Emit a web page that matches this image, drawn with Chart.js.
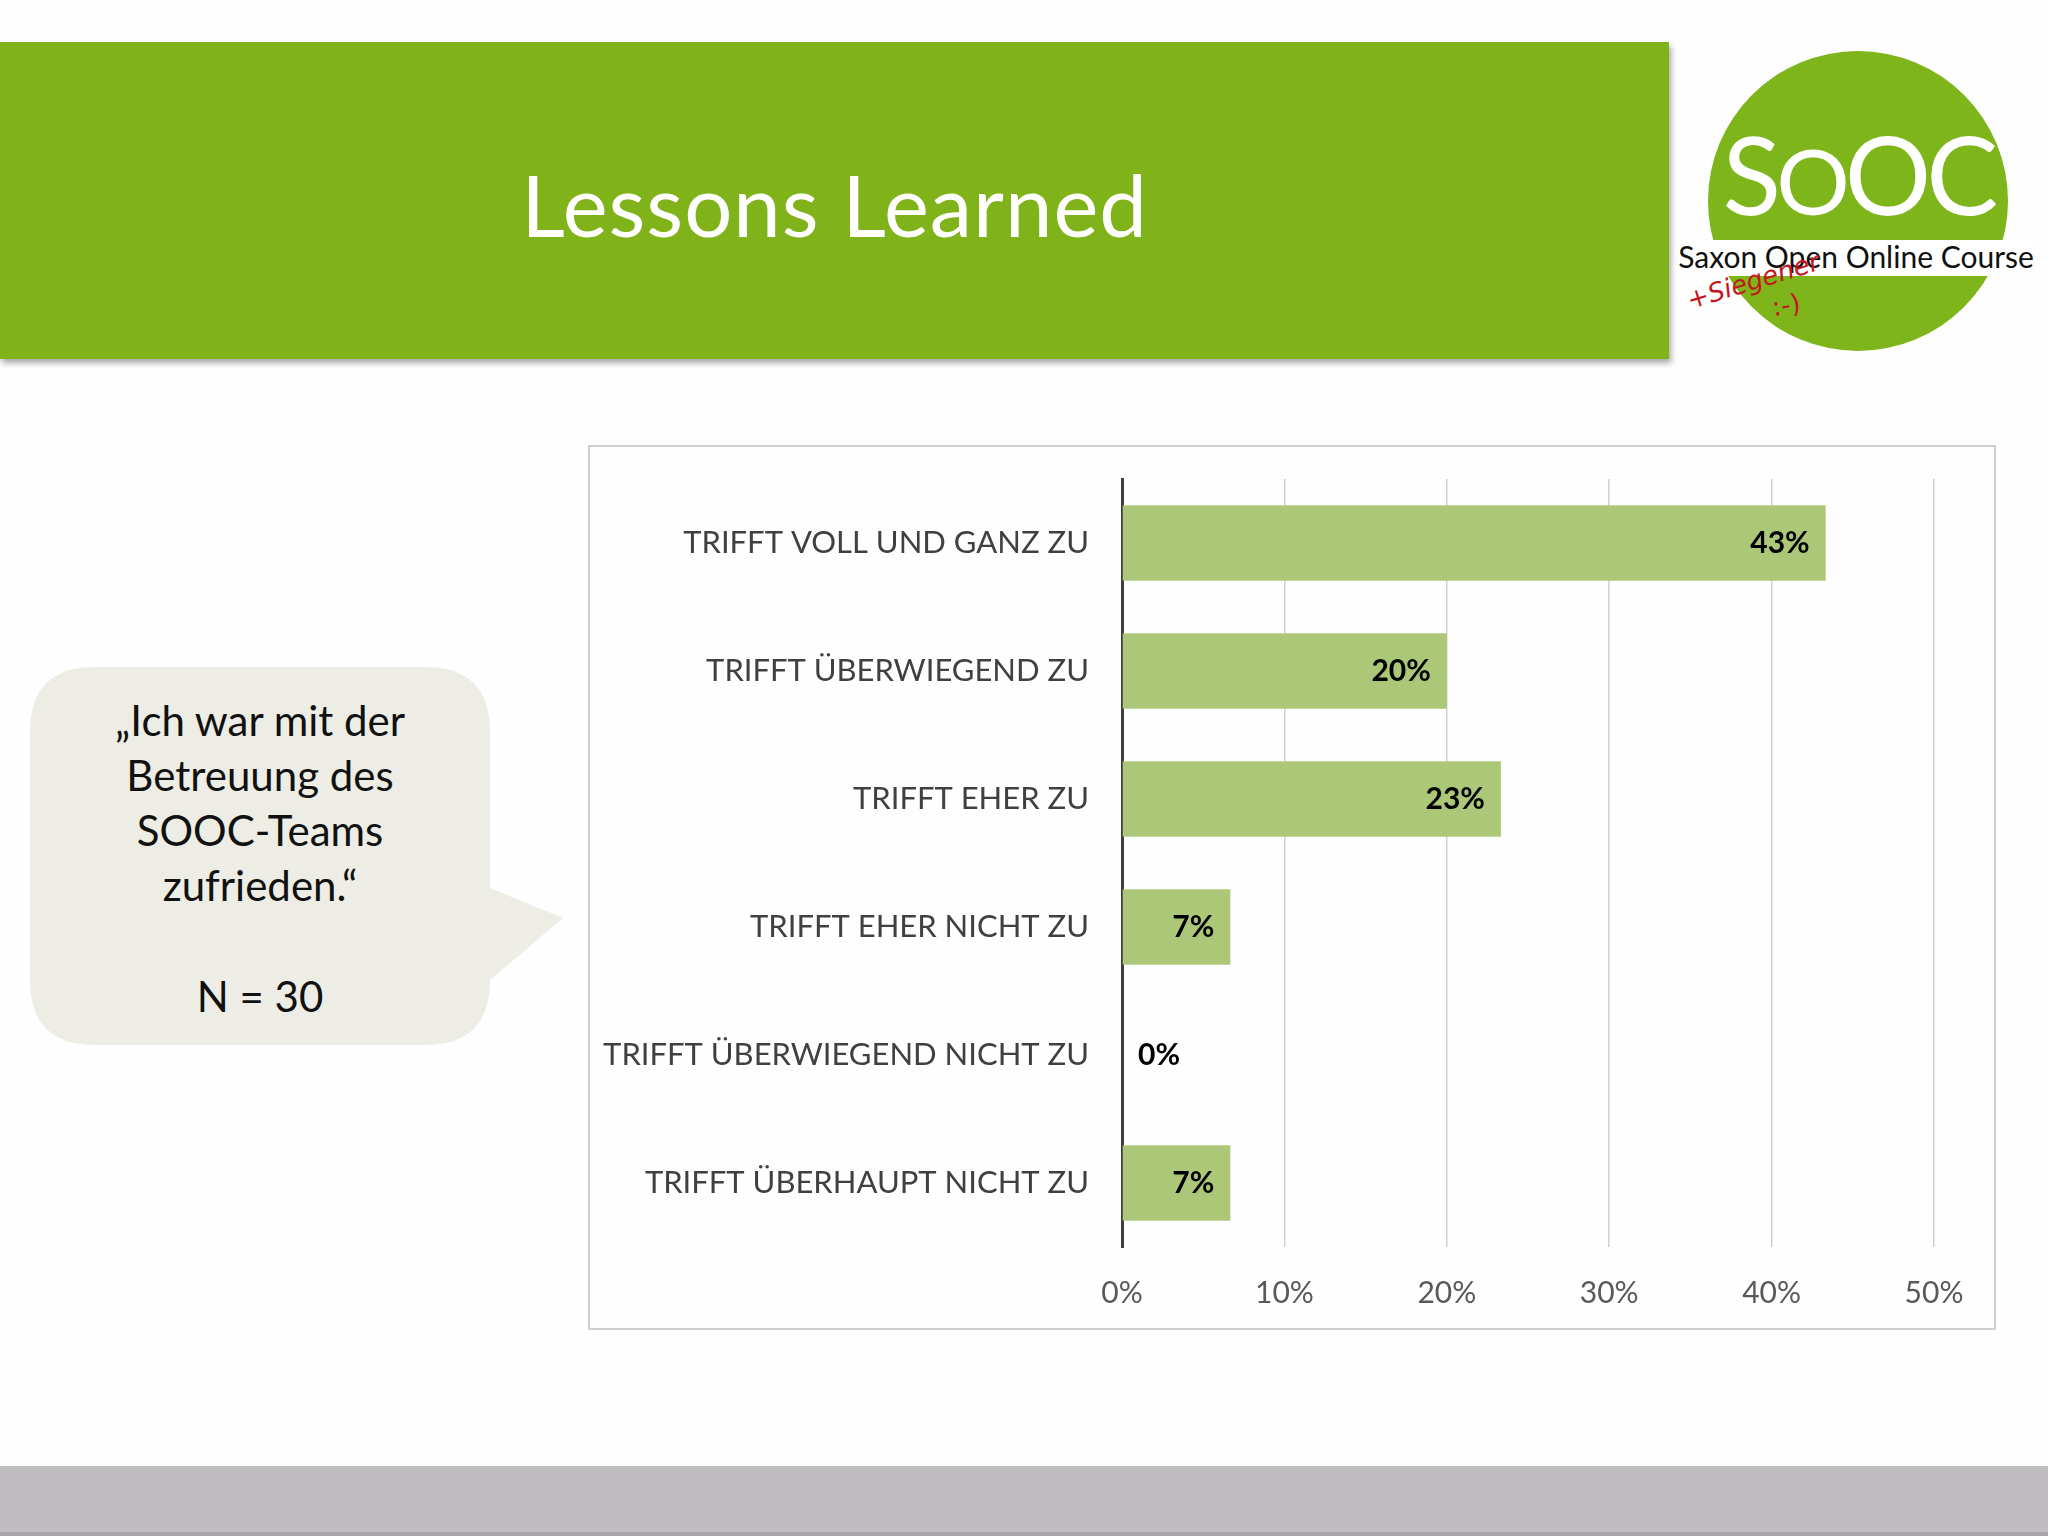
<!DOCTYPE html>
<html><head><meta charset="utf-8">
<script src="https://cdn.jsdelivr.net/npm/chart.js@4/dist/chart.umd.min.js"></script>
<style>
html,body{margin:0;padding:0;background:#fefefe;}
#page{position:relative;width:2048px;height:1536px;overflow:hidden;background:#fefefe;font-family:Lato,"Open Sans",sans-serif;}
#header{position:absolute;left:0;top:42px;width:1669px;height:317px;background:#80b21a;box-shadow:2px 4px 6px rgba(0,0,0,0.35);}
#title{position:absolute;left:0;top:46px;width:1669px;height:317px;line-height:317px;text-align:center;color:#fff;font-size:85px;font-weight:400;letter-spacing:1px;}
#logoCircle{position:absolute;left:1708px;top:51px;width:300px;height:300px;border-radius:50%;background:#7db51b;}
#logoBand{position:absolute;left:1690px;top:240px;width:340px;height:36px;background:#fff;}
#sooc{position:absolute;left:1700px;top:98px;width:316px;text-align:center;color:#fff;font-size:108px;line-height:150px;letter-spacing:-5px;}
#sooc .small{font-size:92px;}
#saxon{position:absolute;left:1670px;top:237px;width:372px;text-align:center;color:#111;font-size:30px;line-height:38px;}
#siegener{position:absolute;left:1692px;top:285px;color:#c4161c;font-size:26px;font-style:italic;transform:rotate(-17deg);transform-origin:left bottom;font-family:"DejaVu Sans",sans-serif;}
#smiley{position:absolute;left:1772px;top:290px;color:#c4161c;font-size:26px;transform:rotate(-10deg);font-family:"DejaVu Sans",sans-serif;}
#bubble{position:absolute;left:0;top:0;}
#quote{position:absolute;left:40px;top:693px;width:440px;text-align:center;font-size:42px;line-height:55px;color:#111;}
#nline{position:absolute;left:40px;top:969px;width:440px;text-align:center;font-size:42px;line-height:55px;color:#111;}
#box{position:absolute;left:588px;top:445px;width:1408px;height:885px;box-sizing:border-box;border:2px solid #cfcfcf;background:#fefefe;}
#chartCanvas{position:absolute;left:588px;top:445px;}
#footer{position:absolute;left:0;top:1466px;width:2048px;height:66px;background:#bfbdc0;}
#footerLine{position:absolute;left:0;top:1532px;width:2048px;height:4px;background:#a8a6a9;}
</style>
</head>
<body>
<div id="page">
  <div id="header"></div>
  <div id="title">Lessons Learned</div>
  <div id="logoCircle"></div>
  <div id="logoBand"></div>
  <div id="sooc">S<span class="small">O</span>OC</div>
  <div id="saxon">Saxon Open Online Course</div>
  <div id="siegener">+Siegener</div>
  <div id="smiley">:-)</div>
  <svg id="bubble" width="600" height="1100">
    <path d="M95 667 H425 Q490 667 490 732 V888 L563 918 L490 980 Q490 1045 425 1045 H95 Q30 1045 30 980 V732 Q30 667 95 667 Z" fill="#edede5"/>
  </svg>
  <div id="quote">„Ich war mit der<br>Betreuung des<br>SOOC-Teams<br>zufrieden.“</div>
  <div id="nline">N = 30</div>
  <div id="box"></div>
  <canvas id="chartCanvas" width="1408" height="885"></canvas>
  <div id="footer"></div>
  <div id="footerLine"></div>
</div>
<script>
const categories = [
  "TRIFFT VOLL UND GANZ ZU",
  "TRIFFT ÜBERWIEGEND ZU",
  "TRIFFT EHER ZU",
  "TRIFFT EHER NICHT ZU",
  "TRIFFT ÜBERWIEGEND NICHT ZU",
  "TRIFFT ÜBERHAUPT NICHT ZU"
];
const shares = [43.33, 20, 23.33, 6.67, 0, 6.67];
const valueLabels = ["43%", "20%", "23%", "7%", "0%", "7%"];
const xTicks = [0, 10, 20, 30, 40, 50];

const dataLabelPlugin = {
  id: 'valueLabels',
  afterDatasetsDraw(chart) {
    const ctx = chart.ctx;
    const meta = chart.getDatasetMeta(0);
    ctx.save();
    ctx.font = 'bold 30px Lato';
    ctx.fillStyle = '#000';
    ctx.textBaseline = 'middle';
    meta.data.forEach((bar, i) => {
      if (shares[i] > 0) {
        ctx.textAlign = 'right';
        ctx.fillText(valueLabels[i], bar.x - 16, bar.y);
      } else {
        ctx.textAlign = 'left';
        ctx.fillText(valueLabels[i], bar.x + 16, bar.y);
      }
    });
    ctx.restore();
  }
};

function draw() {
  new Chart(document.getElementById('chartCanvas'), {
    type: 'bar',
    data: {
      labels: categories,
      datasets: [{
        data: shares,
        backgroundColor: '#abc777',
        borderWidth: 0,
        barPercentage: 0.59,
        categoryPercentage: 1.0
      }]
    },
    options: {
      indexAxis: 'y',
      responsive: false,
      animation: false,
      layout: { padding: { top: 34, right: 62, left: 0, bottom: 0 } },
      plugins: { legend: { display: false }, tooltip: { enabled: false } },
      scales: {
        x: {
          min: 0, max: 50,
          afterBuildTicks(s) { s.ticks = xTicks.map(v => ({ value: v })); },
          ticks: { callback: v => v + '%', font: { family: 'Lato', size: 30 }, color: '#595959', padding: 28 },
          grid: { color: c => (c.tick && c.tick.value === 0) ? 'rgba(0,0,0,0)' : '#d0d0d0', lineWidth: 1.5, drawTicks: false },
          border: { display: false },
          afterFit(s) { s.height = 83; s.paddingLeft = 0; s.paddingRight = 0; }
        },
        y: {
          ticks: { font: { family: 'Lato', size: 31 }, color: '#404040', padding: 33 },
          grid: { display: false, drawTicks: false },
          border: { display: true, color: '#404040', width: 3 },
          afterFit(s) { s.width = 534; s.paddingTop = 0; s.paddingBottom = 0; }
        }
      }
    },
    plugins: [dataLabelPlugin]
  });
}
Promise.all([document.fonts.load('30px Lato'), document.fonts.load('bold 30px Lato')]).then(draw, draw);
</script>
</body></html>
